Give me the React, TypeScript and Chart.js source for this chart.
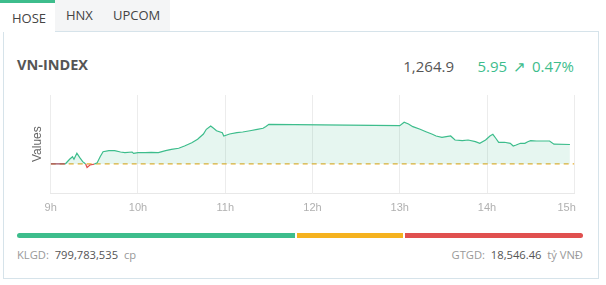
import React, { useEffect, useRef } from "react";
import { Chart, registerables } from "chart.js";

Chart.register(...registerables);

const times = [
  "9:00", "9:10", "9:13", "9:15", "9:16", "9:18", "9:20", "9:22", "9:24", "9:25",
  "9:27", "9:30", "9:32", "9:34", "9:36", "9:40", "9:44", "9:48", "9:51", "9:56",
  "9:57", "10:00", "10:05", "10:09", "10:14", "10:19", "10:23", "10:28", "10:32", "10:37",
  "10:41", "10:45", "10:47", "10:50", "10:52", "10:54", "10:58", "10:59", "11:03", "11:08",
  "11:12", "11:17", "11:22", "11:26", "11:28", "11:30", "13:00", "13:03", "13:06", "13:09",
  "13:14", "13:18", "13:22", "13:25", "13:29", "13:32", "13:35", "13:38", "13:43", "13:47",
  "13:52", "13:55", "13:59", "14:02", "14:04", "14:06", "14:08", "14:12", "14:16", "14:18",
  "14:20", "14:23", "14:26", "14:28", "14:30", "14:34", "14:43", "14:46", "14:57",
];

const values = [
  1258.95, 1258.95, 1260.38, 1261.17, 1260.4, 1262.21, 1260.87, 1259.65, 1258.95, 1257.85,
  1258.65, 1258.9, 1259.35, 1261.17, 1262.7, 1263.0, 1263.0, 1262.6, 1262.4, 1262.6,
  1262.2, 1262.4, 1262.4, 1262.5, 1262.4, 1263.0, 1263.43, 1263.74, 1264.44, 1265.44,
  1266.48, 1268.1, 1269.53, 1270.54, 1269.84, 1269.1, 1268.5, 1267.5, 1268.1, 1268.5,
  1268.7, 1269.1, 1269.53, 1269.84, 1270.4, 1271.06, 1270.63, 1271.67, 1271.15, 1270.33,
  1269.53, 1268.8, 1268.1, 1267.49, 1267.1, 1267.28, 1267.49, 1266.27, 1266.05, 1266.27,
  1265.75, 1265.26, 1266.27, 1267.49, 1268.0, 1266.8, 1265.57, 1265.57, 1265.26, 1264.44,
  1264.74, 1265.26, 1265.26, 1265.75, 1266.05, 1265.96, 1265.96, 1265.0, 1264.9,
];

const refValue = 1258.95;
const xTickHours = [9, 10, 11, 12, 13, 14, 15];
const yMin = 1250;
const yMax = 1280;

const GREEN = "#3dbd8c";
const RED = "#e0504f";
const FLAT = "#9a4a5e";
const DASH = "#e8b030";

function toHour(t: string): number {
  const [h, m] = t.split(":").map(Number);
  return h + m / 60;
}

function ChartBox() {
  const ref = useRef<HTMLCanvasElement | null>(null);
  useEffect(() => {
    if (!ref.current) return;
    const pts = times.map((t, i) => ({ x: toHour(t), y: values[i] }));
    const refPts = [
      { x: xTickHours[0], y: refValue },
      { x: xTickHours[xTickHours.length - 1], y: refValue },
    ];
    const chart = new Chart(ref.current, {
      type: "line",
      data: {
        datasets: [
          {
            data: refPts,
            borderColor: DASH,
            borderWidth: 1.2,
            borderDash: [5, 4],
            pointRadius: 0,
            fill: false,
            order: 2,
          },
          {
            data: pts,
            borderColor: GREEN,
            borderWidth: 1.2,
            pointRadius: 0,
            tension: 0,
            fill: {
              value: refValue,
              above: "rgba(61,189,140,0.13)",
              below: "rgba(224,80,79,0.15)",
            },
            segment: {
              borderColor: (ctx: any) => {
                const a = ctx.p0.parsed.y;
                const b = ctx.p1.parsed.y;
                if (a === refValue && b === refValue) return FLAT;
                return (a + b) / 2 <= refValue + 0.01 ? RED : GREEN;
              },
            },
            order: 1,
          },
        ],
      },
      options: {
        animation: false,
        responsive: false,
        layout: { padding: { left: 26, right: 31.7, top: 15, bottom: 0 } },
        plugins: { legend: { display: false }, tooltip: { enabled: false } },
        scales: {
          x: {
            type: "linear",
            min: 9,
            max: 15,
            afterBuildTicks: (scale: any) => {
              scale.ticks = xTickHours.map((v) => ({ value: v }));
            },
            afterFit: (scale: any) => {
              scale.height = 26.7;
            },
            grid: { color: "#ececec", drawTicks: false },
            border: { color: "#e8e8e8" },
            ticks: {
              padding: 8,
              color: "#b0b0b0",
              font: { family: "Liberation Sans, Arial", size: 11 },
              maxRotation: 0,
              autoSkip: false,
              callback: (v: any) =>
                v === 15 ? v + "h\u00a0\u00a0\u00a0\u00a0\u00a0" : v + "h",
            },
          },
          y: {
            min: yMin,
            max: yMax,
            afterFit: (scale: any) => {
              scale.width = 24.7;
            },
            grid: { display: false },
            border: { display: false },
            ticks: { display: false },
            title: {
              display: true,
              text: "Values",
              color: "#666",
              font: { family: "Liberation Sans, Arial", size: 12 },
            },
          },
        },
      },
    });
    return () => chart.destroy();
  }, []);
  return <canvas ref={ref} width={606} height={140} />;
}

export default function App() {
  const font = "'Open Sans', 'Noto Sans', sans-serif";
  return (
    <div
      style={{
        position: "fixed",
        left: 0,
        top: 0,
        width: 606,
        height: 285,
        background: "#fff",
        fontFamily: font,
        overflow: "hidden",
      }}
    >
      {/* card */}
      <div
        style={{
          position: "absolute",
          left: 3,
          top: 31,
          width: 596,
          height: 248,
          border: "1px solid #d6e3ea",
          boxSizing: "border-box",
        }}
      />
      {/* tabs */}
      <div
        style={{
          position: "absolute",
          left: 55,
          top: 0,
          width: 115,
          height: 31,
          background: "#f4f5f6",
        }}
      />
      <div
        style={{
          position: "absolute",
          left: 0,
          top: 0,
          width: 55,
          height: 32,
          background: "#fff",
          borderTop: `3px solid ${GREEN}`,
          boxSizing: "border-box",
        }}
      />
      <div style={{ position: "absolute", left: 12, top: 10, fontSize: 13, color: "#444", lineHeight: "16px" }}>HOSE</div>
      <div style={{ position: "absolute", left: 66, top: 7, fontSize: 13, color: "#444", lineHeight: "16px" }}>HNX</div>
      <div style={{ position: "absolute", left: 113, top: 7, fontSize: 13, color: "#444", lineHeight: "16px" }}>UPCOM</div>

      {/* header */}
      <div
        style={{
          position: "absolute",
          left: 17,
          top: 56,
          fontSize: 14.5,
          fontWeight: 700,
          color: "#555",
          lineHeight: "18px",
        }}
      >
        VN-INDEX
      </div>
      <div
        style={{
          position: "absolute",
          right: 606 - 454,
          top: 57,
          fontSize: 15,
          color: "#555",
          lineHeight: "18px",
          whiteSpace: "nowrap",
        }}
      >
        1,264.9
      </div>
      <div
        style={{
          position: "absolute",
          right: 606 - 574,
          top: 57,
          fontSize: 15,
          color: GREEN,
          lineHeight: "18px",
          whiteSpace: "nowrap",
        }}
      >
        5.95<span style={{ margin: "0 2px" }}> ↗ </span>0.47%
      </div>

      {/* chart */}
      <div style={{ position: "absolute", left: 0, top: 80, width: 606, height: 140 }}>
        <ChartBox />
      </div>

      {/* breadth bar */}
      <div style={{ position: "absolute", left: 17, top: 233, width: 278, height: 5, background: GREEN, borderRadius: "3px 0 0 3px" }} />
      <div style={{ position: "absolute", left: 297, top: 233, width: 106, height: 5, background: "#f5b21f" }} />
      <div style={{ position: "absolute", left: 405, top: 233, width: 178, height: 5, background: RED, borderRadius: "0 3px 3px 0" }} />

      {/* footer */}
      <div
        style={{
          position: "absolute",
          left: 17,
          top: 247,
          fontSize: 11.2,
          lineHeight: "16px",
          color: "#999",
          whiteSpace: "pre",
        }}
      >
        KLGD:  <span style={{ color: "#555" }}>799,783,535</span>  cp
      </div>
      <div
        style={{
          position: "absolute",
          right: 606 - 583,
          top: 247,
          fontSize: 11.2,
          lineHeight: "16px",
          color: "#999",
          whiteSpace: "pre",
        }}
      >
        GTGD:  <span style={{ color: "#555" }}>18,546.46</span>  tỷ VNĐ
      </div>
    </div>
  );
}
